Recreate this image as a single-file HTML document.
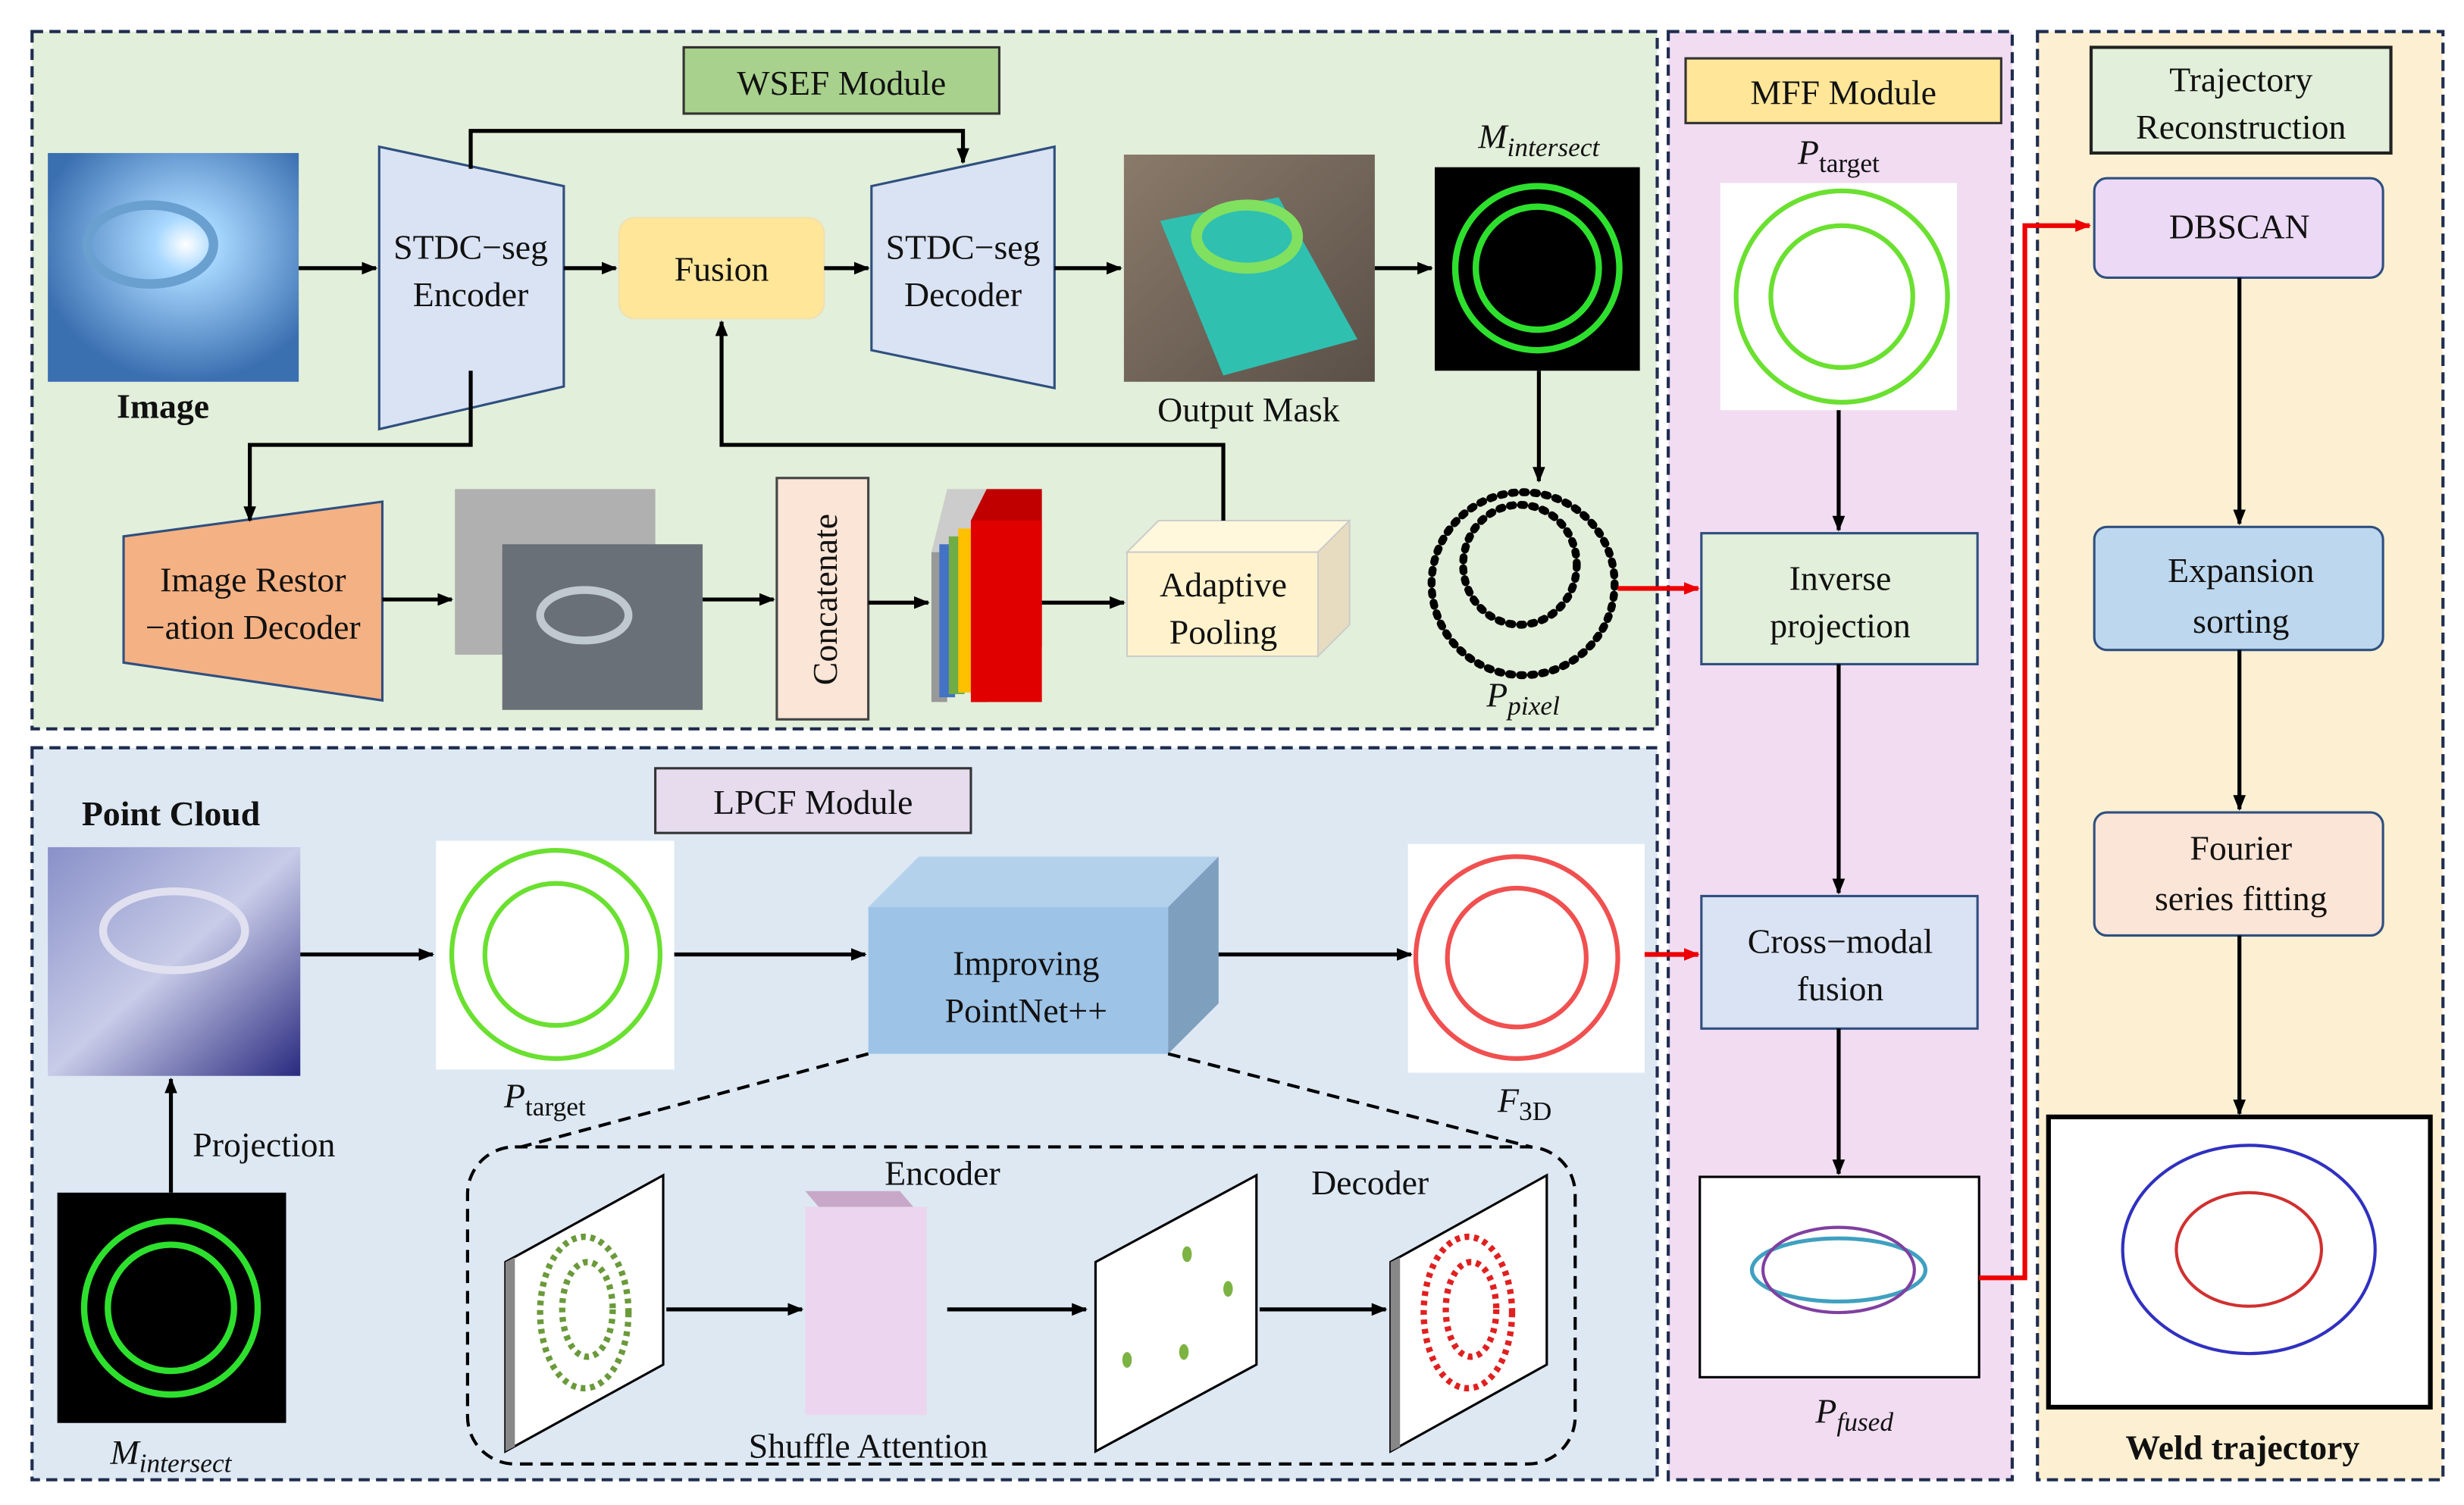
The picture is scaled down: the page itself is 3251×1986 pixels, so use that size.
<!DOCTYPE html>
<html><head><meta charset="utf-8"><style>
html,body{margin:0;padding:0;background:#fff;}
svg{display:block;}
text{font-family:"Liberation Serif",serif;fill:#111;}
</style></head><body>
<svg width="3251" height="1986" viewBox="0 0 1561 954" xmlns="http://www.w3.org/2000/svg">
<defs>
<marker id="ar" markerWidth="10" markerHeight="10" refX="9" refY="5" orient="auto" markerUnits="userSpaceOnUse"><path d="M0,1 L10,5 L0,9 z" fill="#000"/></marker>
<marker id="arr" markerWidth="10" markerHeight="10" refX="9" refY="5" orient="auto" markerUnits="userSpaceOnUse"><path d="M0,1 L10,5 L0,9 z" fill="#e00"/></marker>
<radialGradient id="weld" cx="0.55" cy="0.4" r="0.6"><stop offset="0" stop-color="#ffffff"/><stop offset="0.2" stop-color="#a8d8ff"/><stop offset="1" stop-color="#3a6fb0"/></radialGradient>
<linearGradient id="pc" x1="0" y1="0" x2="1" y2="1"><stop offset="0" stop-color="#8890c8"/><stop offset="0.5" stop-color="#c8cce8"/><stop offset="1" stop-color="#2a2a80"/></linearGradient>
<linearGradient id="om" x1="0" y1="0" x2="1" y2="1"><stop offset="0" stop-color="#8a7a6a"/><stop offset="1" stop-color="#5a5048"/></linearGradient>
</defs>
<g fill="none" stroke="#1f2d4f" stroke-width="2" stroke-dasharray="7,4">
<rect x="20" y="20" width="1030" height="442" fill="#e2efda"/>
<rect x="20" y="474" width="1030" height="464" fill="#dde8f3"/>
<rect x="1057" y="20" width="218" height="918" fill="#f1dcf2"/>
<rect x="1291" y="20" width="257" height="918" fill="#fdf0d2"/>
</g>
<g font-size="22" text-anchor="middle">
<rect x="433" y="30" width="200" height="42" fill="#a9d18e" stroke="#333" stroke-width="1.5"/><text x="533" y="60">WSEF Module</text>
<rect x="1068" y="37" width="200" height="41" fill="#ffe699" stroke="#333" stroke-width="1.5"/><text x="1168" y="66">MFF Module</text>
<rect x="1325" y="30" width="190" height="67" fill="#e2efda" stroke="#222" stroke-width="2"/><text x="1420" y="58">Trajectory</text><text x="1420" y="88">Reconstruction</text>
<rect x="415" y="487" width="200" height="41" fill="#e6dcee" stroke="#333" stroke-width="1.5"/><text x="515" y="516">LPCF Module</text>
</g>
<rect x="30" y="97" width="159" height="145" fill="url(#weld)"/>
<ellipse cx="95" cy="155" rx="40" ry="25" fill="none" stroke="#6aa0d0" stroke-width="6"/>
<text x="103" y="265" font-size="22" font-weight="bold" text-anchor="middle">Image</text>
<path d="M240,93 L357,118 L357,245 L240,272 Z" fill="#dae3f3" stroke="#2f4f7f" stroke-width="1.5"/>
<text x="298" y="164" font-size="22" text-anchor="middle">STDC−seg</text><text x="298" y="194" font-size="22" text-anchor="middle">Encoder</text>
<rect x="392" y="138" width="130" height="64" rx="10" fill="#ffe699" stroke="#f0e0b0"/>
<text x="457" y="178" font-size="22" text-anchor="middle">Fusion</text>
<path d="M552,118 L668,93 L668,246 L552,222 Z" fill="#dae3f3" stroke="#2f4f7f" stroke-width="1.5"/>
<text x="610" y="164" font-size="22" text-anchor="middle">STDC−seg</text><text x="610" y="194" font-size="22" text-anchor="middle">Decoder</text>
<rect x="712" y="98" width="159" height="144" fill="url(#om)"/>
<path d="M735,140 L810,125 L860,215 L775,238 Z" fill="#2fc0b0"/>
<ellipse cx="790" cy="150" rx="32" ry="20" fill="none" stroke="#80e060" stroke-width="7"/>
<text x="791" y="267" font-size="22" text-anchor="middle">Output Mask</text>
<rect x="909" y="106" width="130" height="129" fill="#000"/>
<circle cx="974" cy="170" r="52" fill="none" stroke="#2ee02e" stroke-width="4"/>
<circle cx="974" cy="170" r="39" fill="none" stroke="#2ee02e" stroke-width="4"/>
<text x="975" y="94" font-size="22" font-style="italic" text-anchor="middle">M<tspan font-size="17" dy="5">intersect</tspan></text>
<ellipse cx="965" cy="370" rx="58" ry="58" fill="none" stroke="#000" stroke-width="5" stroke-dasharray="2,5" stroke-linecap="round"/>
<ellipse cx="963" cy="358" rx="36" ry="38" fill="none" stroke="#000" stroke-width="5" stroke-dasharray="2,5" stroke-linecap="round"/>
<text x="965" y="448" font-size="22" font-style="italic" text-anchor="middle">P<tspan font-size="17" dy="5">pixel</tspan></text>
<path d="M78,340 L242,318 L242,444 L78,420 Z" fill="#f4b183" stroke="#2f4f7f" stroke-width="1.5"/>
<text x="160" y="375" font-size="22" text-anchor="middle">Image Restor</text><text x="160" y="405" font-size="22" text-anchor="middle">−ation Decoder</text>
<rect x="288" y="310" width="127" height="105" fill="#b0b0b0"/>
<rect x="318" y="345" width="127" height="105" fill="#6a7078"/>
<ellipse cx="370" cy="390" rx="28" ry="16" fill="none" stroke="#c0c8d0" stroke-width="5"/>
<rect x="492" y="303" width="58" height="153" fill="#fbe5d6" stroke="#444" stroke-width="1.5"/>
<text transform="translate(530,380) rotate(-90)" font-size="22" text-anchor="middle">Concatenate</text>
<g><polygon points="590,350 600,310 660,310 650,350" fill="#ccc"/>
<rect x="590" y="350" width="10" height="95" fill="#999"/><rect x="595" y="345" width="10" height="97" fill="#4472c4"/><rect x="601" y="340" width="10" height="100" fill="#70ad47"/><rect x="607" y="335" width="10" height="104" fill="#ffc000"/>
<polygon points="615,330 625,310 660,310 660,410 625,445 615,445" fill="#c00000"/><rect x="615" y="330" width="45" height="115" fill="#e00000"/></g>
<polygon points="714,350 734,330 855,330 835,350" fill="#fff8dc" stroke="#ccc"/>
<polygon points="835,350 855,330 855,396 835,416" fill="#e8dcc0" stroke="#ccc"/>
<rect x="714" y="350" width="121" height="66" fill="#fff2cc" stroke="#ccc"/>
<text x="775" y="378" font-size="22" text-anchor="middle">Adaptive</text><text x="775" y="408" font-size="22" text-anchor="middle">Pooling</text>
<g stroke="#000" stroke-width="2.5" fill="none" marker-end="url(#ar)">
<line x1="189" y1="170" x2="238" y2="170"/><line x1="357" y1="170" x2="390" y2="170"/>
<line x1="522" y1="170" x2="550" y2="170"/><line x1="668" y1="170" x2="710" y2="170"/>
<line x1="871" y1="170" x2="907" y2="170"/>
<polyline points="298,107 298,83 610,83 610,103"/>
<polyline points="298,235 298,282 158,282 158,330"/>
<line x1="242" y1="380" x2="286" y2="380"/><line x1="445" y1="380" x2="490" y2="380"/>
<line x1="550" y1="382" x2="588" y2="382"/><line x1="660" y1="382" x2="712" y2="382"/>
<polyline points="775,330 775,282 457,282 457,204"/>
<line x1="975" y1="235" x2="975" y2="305"/>
</g>
<line x1="1025" y1="373" x2="1076" y2="373" stroke="#e00" stroke-width="3" marker-end="url(#arr)"/>
<text x="1165" y="104" font-size="22" font-style="italic" text-anchor="middle">P<tspan font-style="normal" font-size="17" dy="5">target</tspan></text>
<rect x="1090" y="116" width="150" height="144" fill="#fff"/>
<circle cx="1167" cy="188" r="67" fill="none" stroke="#6ae030" stroke-width="3"/>
<circle cx="1167" cy="188" r="45" fill="none" stroke="#6ae030" stroke-width="3"/>
<rect x="1078" y="338" width="175" height="83" fill="#e2efda" stroke="#2f4f7f" stroke-width="1.5"/>
<text x="1166" y="374" font-size="22" text-anchor="middle">Inverse</text><text x="1166" y="404" font-size="22" text-anchor="middle">projection</text>
<rect x="1078" y="568" width="175" height="84" fill="#dae3f3" stroke="#2f4f7f" stroke-width="1.5"/>
<text x="1166" y="604" font-size="22" text-anchor="middle">Cross−modal</text><text x="1166" y="634" font-size="22" text-anchor="middle">fusion</text>
<rect x="1077" y="746" width="177" height="127" fill="#fff" stroke="#000" stroke-width="1.5"/>
<ellipse cx="1165" cy="805" rx="55" ry="20" fill="none" stroke="#40a0c0" stroke-width="2.5"/>
<ellipse cx="1165" cy="805" rx="48" ry="27" fill="none" stroke="#8040a0" stroke-width="2"/>
<text x="1175" y="902" font-size="22" font-style="italic" text-anchor="middle">P<tspan font-size="17" dy="5">fused</tspan></text>
<g stroke="#000" stroke-width="2.5" marker-end="url(#ar)">
<line x1="1165" y1="260" x2="1165" y2="336"/><line x1="1165" y1="421" x2="1165" y2="566"/><line x1="1165" y1="652" x2="1165" y2="744"/>
</g>
<polyline points="1254,810 1283,810 1283,143 1324,143" fill="none" stroke="#e00" stroke-width="3" marker-end="url(#arr)"/>
<rect x="1327" y="113" width="183" height="63" rx="8" fill="#ecd9f5" stroke="#2f4f7f" stroke-width="1.5"/>
<text x="1419" y="151" font-size="22" text-anchor="middle">DBSCAN</text>
<rect x="1327" y="334" width="183" height="78" rx="8" fill="#bdd7ee" stroke="#2f4f7f" stroke-width="1.5"/>
<text x="1420" y="369" font-size="22" text-anchor="middle">Expansion</text><text x="1420" y="401" font-size="22" text-anchor="middle">sorting</text>
<rect x="1327" y="515" width="183" height="78" rx="8" fill="#fbe5d6" stroke="#2f4f7f" stroke-width="1.5"/>
<text x="1420" y="545" font-size="22" text-anchor="middle">Fourier</text><text x="1420" y="577" font-size="22" text-anchor="middle">series fitting</text>
<rect x="1298" y="708" width="242" height="184" fill="#fff" stroke="#000" stroke-width="3"/>
<ellipse cx="1425" cy="792" rx="46" ry="36" fill="none" stroke="#d03030" stroke-width="2"/>
<ellipse cx="1425" cy="792" rx="80" ry="66" fill="none" stroke="#3030c0" stroke-width="2"/>
<text x="1421" y="925" font-size="22" font-weight="bold" text-anchor="middle">Weld trajectory</text>
<g stroke="#000" stroke-width="2.5" marker-end="url(#ar)">
<line x1="1419" y1="176" x2="1419" y2="332"/><line x1="1419" y1="412" x2="1419" y2="513"/><line x1="1419" y1="593" x2="1419" y2="706"/>
</g>
<text x="108" y="523" font-size="22" font-weight="bold" text-anchor="middle">Point Cloud</text>
<rect x="30" y="537" width="160" height="145" fill="url(#pc)"/>
<ellipse cx="110" cy="590" rx="45" ry="25" fill="none" stroke="#e0e0f0" stroke-width="5"/>
<rect x="36" y="756" width="145" height="146" fill="#000"/>
<circle cx="108" cy="829" r="55" fill="none" stroke="#2ee02e" stroke-width="4"/>
<circle cx="108" cy="829" r="40" fill="none" stroke="#2ee02e" stroke-width="4"/>
<text x="108" y="928" font-size="22" font-style="italic" text-anchor="middle">M<tspan font-size="17" dy="5">intersect</tspan></text>
<text x="167" y="733" font-size="22" text-anchor="middle">Projection</text>
<rect x="276" y="533" width="151" height="145" fill="#fff"/>
<circle cx="352" cy="605" r="66" fill="none" stroke="#6ae030" stroke-width="3"/>
<circle cx="352" cy="605" r="45" fill="none" stroke="#6ae030" stroke-width="3"/>
<text x="345" y="702" font-size="22" font-style="italic" text-anchor="middle">P<tspan font-style="normal" font-size="17" dy="5">target</tspan></text>
<polygon points="550,575 582,543 772,543 740,575" fill="#b4d1ec"/>
<polygon points="740,575 772,543 772,636 740,668" fill="#7f9fbf"/>
<rect x="550" y="575" width="190" height="93" fill="#9dc3e6"/>
<text x="650" y="618" font-size="22" text-anchor="middle">Improving</text><text x="650" y="648" font-size="22" text-anchor="middle">PointNet++</text>
<rect x="892" y="535" width="150" height="145" fill="#fff"/>
<circle cx="961" cy="607" r="64" fill="none" stroke="#f05050" stroke-width="3"/>
<circle cx="961" cy="607" r="44" fill="none" stroke="#f05050" stroke-width="3"/>
<text x="966" y="705" font-size="22" font-style="italic" text-anchor="middle">F<tspan font-style="normal" font-size="17" dy="5">3D</tspan></text>
<g stroke="#000" stroke-width="2.5" marker-end="url(#ar)">
<line x1="108" y1="756" x2="108" y2="684"/><line x1="190" y1="605" x2="274" y2="605"/>
<line x1="427" y1="605" x2="548" y2="605"/><line x1="772" y1="605" x2="894" y2="605"/>
</g>
<line x1="1042" y1="605" x2="1076" y2="605" stroke="#e00" stroke-width="3" marker-end="url(#arr)"/>
<g stroke="#000" stroke-width="2" stroke-dasharray="8,5" fill="none">
<line x1="550" y1="668" x2="330" y2="727"/><line x1="740" y1="668" x2="970" y2="727"/>
<rect x="296" y="727" width="702" height="201" rx="30"/>
</g>
<polygon points="320,800 420,745 420,865 320,920" fill="#fff" stroke="#000" stroke-width="1.5"/>
<polygon points="320,800 326,797 326,917 320,920" fill="#888"/>
<ellipse cx="370" cy="832" rx="28" ry="48" fill="none" stroke="#6a9a3a" stroke-width="4" stroke-dasharray="3,3"/>
<ellipse cx="372" cy="830" rx="16" ry="30" fill="none" stroke="#6a9a3a" stroke-width="4" stroke-dasharray="3,3"/>
<polygon points="510,755 570,755 587,775 527,775" fill="#c8a8c8"/>
<rect x="510" y="765" width="77" height="132" fill="#ecd5ee"/>
<text x="597" y="751" font-size="22" text-anchor="middle">Encoder</text>
<text x="550" y="924" font-size="22" text-anchor="middle">Shuffle Attention</text>
<polygon points="694,800 796,745 796,865 694,920" fill="#fff" stroke="#000" stroke-width="1.5"/>
<g fill="#7cb342"><ellipse cx="752" cy="795" rx="3" ry="5"/><ellipse cx="778" cy="817" rx="3" ry="5"/><ellipse cx="750" cy="857" rx="3" ry="5"/><ellipse cx="714" cy="862" rx="3" ry="5"/></g>
<polygon points="881,800 980,745 980,865 881,920" fill="#fff" stroke="#000" stroke-width="1.5"/>
<polygon points="881,800 887,797 887,917 881,920" fill="#888"/>
<ellipse cx="930" cy="832" rx="28" ry="48" fill="none" stroke="#e02020" stroke-width="4" stroke-dasharray="3,3"/>
<ellipse cx="932" cy="830" rx="16" ry="30" fill="none" stroke="#e02020" stroke-width="4" stroke-dasharray="3,3"/>
<text x="868" y="757" font-size="22" text-anchor="middle">Decoder</text>
<g stroke="#000" stroke-width="2.5" marker-end="url(#ar)">
<line x1="422" y1="830" x2="508" y2="830"/><line x1="600" y1="830" x2="688" y2="830"/><line x1="798" y1="830" x2="878" y2="830"/>
</g>
</svg>
</body></html>
